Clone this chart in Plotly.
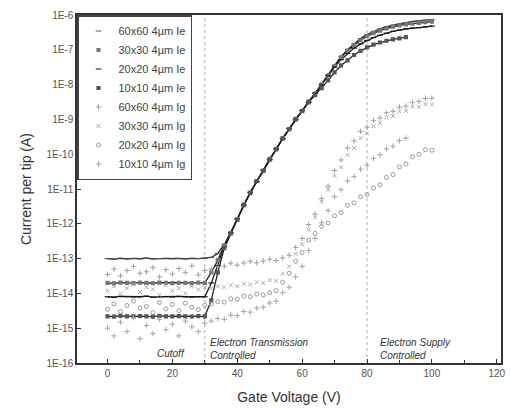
import plotly.graph_objects as go

# ---------------- data ----------------
volts = [0, 2, 4, 6, 8, 10, 12, 14, 16, 18, 20, 22, 24, 26, 28, 30, 32, 34, 36, 38,
         40, 42, 44, 46, 48, 50, 52, 54, 56, 58, 60, 62, 64, 66, 68, 70, 72, 74, 76, 78,
         80, 82, 84, 86, 88, 90, 92, 94, 96, 98, 100]
volts_10 = volts[:47]  # 10x10 device measured up to 92 V

ie_60 = [1.00e-13, 0.97e-13, 1.02e-13, 0.98e-13, 1.01e-13, 0.99e-13, 1.03e-13, 0.98e-13,
         1.00e-13, 1.02e-13, 0.99e-13, 1.01e-13, 0.98e-13, 1.02e-13, 1.00e-13, 1.03e-13,
         1.08e-13, 1.4e-13, 2.5e-13, 5.6e-13, 1.4e-12, 3.5e-12, 7.9e-12, 1.66e-11, 3.4e-11,
         7.1e-11, 1.41e-10, 2.8e-10, 5.4e-10, 1.0e-9, 1.78e-9, 3.2e-9, 5.6e-9, 1.0e-8, 1.9e-8,
         3.5e-8, 6.3e-8, 1.0e-7, 1.48e-7, 2.1e-7, 2.75e-7, 3.4e-7, 4.0e-7, 4.6e-7, 5.1e-7,
         5.6e-7, 6.0e-7, 6.5e-7, 6.8e-7, 7.1e-7, 7.4e-7]
ie_30 = [2.00e-14, 1.95e-14, 2.05e-14, 2.00e-14, 1.97e-14, 2.03e-14, 2.00e-14, 1.96e-14,
         2.04e-14, 2.00e-14, 1.98e-14, 2.02e-14, 2.00e-14, 1.97e-14, 2.03e-14, 2.00e-14,
         4.0e-14, 9.0e-14, 2.4e-13, 5.4e-13, 1.35e-12, 3.6e-12, 7.6e-12, 1.7e-11, 3.3e-11,
         7.3e-11, 1.38e-10, 2.9e-10, 5.2e-10, 1.03e-9, 1.74e-9, 3.3e-9, 5.5e-9, 1.02e-8, 1.85e-8,
         3.4e-8, 6.1e-8, 9.5e-8, 1.38e-7, 1.9e-7, 2.45e-7, 3.0e-7, 3.55e-7, 4.1e-7, 4.6e-7,
         5.0e-7, 5.4e-7, 5.6e-7, 5.9e-7, 6.2e-7, 6.45e-7]
ie_20 = [8.0e-15, 7.8e-15, 8.2e-15, 8.1e-15, 7.9e-15, 8.0e-15, 8.3e-15, 7.8e-15,
         8.0e-15, 8.1e-15, 7.9e-15, 8.2e-15, 8.0e-15, 7.9e-15, 8.1e-15, 8.0e-15,
         2.0e-14, 6.3e-14, 2.2e-13, 5.5e-13, 1.38e-12, 3.4e-12, 8.1e-12, 1.62e-11, 3.5e-11,
         6.9e-11, 1.44e-10, 2.75e-10, 5.5e-10, 9.8e-10, 1.8e-9, 3.1e-9, 5.7e-9, 9.8e-9, 1.8e-8,
         3.2e-8, 5.2e-8, 7.9e-8, 1.12e-7, 1.48e-7, 1.86e-7, 2.24e-7, 2.63e-7, 3.0e-7, 3.4e-7,
         3.7e-7, 4.0e-7, 4.2e-7, 4.35e-7, 4.55e-7, 4.8e-7]
ie_10 = [2.20e-15, 2.15e-15, 2.25e-15, 2.20e-15, 2.18e-15, 2.22e-15, 2.20e-15, 2.15e-15,
         2.25e-15, 2.20e-15, 2.18e-15, 2.23e-15, 2.20e-15, 2.17e-15, 2.22e-15, 2.20e-15,
         6.3e-15, 4.0e-14, 2.0e-13, 5.3e-13, 1.32e-12, 3.45e-12, 7.7e-12, 1.68e-11, 3.3e-11,
         7.0e-11, 1.4e-10, 2.8e-10, 5.3e-10, 1.0e-9, 1.75e-9, 3.1e-9, 5.0e-9, 7.9e-9, 1.32e-8,
         2.24e-8, 3.55e-8, 5.0e-8, 7.1e-8, 9.3e-8, 1.17e-7, 1.41e-7, 1.62e-7, 1.82e-7, 2.0e-7,
         2.14e-7, 2.3e-7]

ig_60 = [3.5e-14, 5.0e-14, 3.2e-14, 4.5e-14, 6.0e-14, 3.8e-14, 4.2e-14, 5.5e-14,
         3.0e-14, 4.8e-14, 3.6e-14, 5.2e-14, 4.0e-14, 6.2e-14, 3.4e-14, 4.6e-14,
         5.0e-14, 5.8e-14, 6.0e-14, 7.4e-14, 6.5e-14, 7.5e-14, 8.4e-14, 7.6e-14, 8.5e-14,
         9.6e-14, 8.8e-14, 1.05e-13, 1.26e-13, 2.1e-13, 3.8e-13, 9.5e-13, 1.9e-12, 5.3e-12, 1.2e-11,
         3.4e-11, 6.8e-11, 1.5e-10, 2.4e-10, 4.5e-10, 6.0e-10, 9.4e-10, 1.1e-9, 1.55e-9, 1.7e-9,
         2.25e-9, 2.4e-9, 3.1e-9, 3.3e-9, 4.0e-9, 4.1e-9]
ig_30 = [1.2e-14, 1.6e-14, 1.0e-14, 1.4e-14, 1.8e-14, 1.1e-14, 1.5e-14, 1.3e-14,
         0.9e-14, 1.7e-14, 1.2e-14, 1.4e-14, 1.0e-14, 1.6e-14, 1.3e-14, 1.5e-14,
         1.4e-14, 1.6e-14, 1.5e-14, 1.7e-14, 1.6e-14, 1.9e-14, 1.8e-14, 2.1e-14, 2.0e-14,
         2.4e-14, 2.3e-14, 3.7e-14, 6.0e-14, 1.35e-13, 2.6e-13, 6.8e-13, 1.5e-12, 4.3e-12, 9.5e-12,
         2.4e-11, 4.2e-11, 9.5e-11, 1.5e-10, 2.9e-10, 4.0e-10, 6.4e-10, 7.9e-10, 1.13e-9, 1.25e-9,
         1.68e-9, 1.75e-9, 2.3e-9, 2.3e-9, 2.75e-9, 2.7e-9]
ig_20 = [3.5e-15, 5.0e-15, 3.0e-15, 4.5e-15, 6.0e-15, 3.8e-15, 4.2e-15, 2.8e-15,
         5.5e-15, 3.6e-15, 4.8e-15, 3.2e-15, 5.2e-15, 4.0e-15, 3.4e-15, 4.6e-15,
         5.0e-15, 5.8e-15, 5.6e-15, 7.0e-15, 6.8e-15, 8.3e-15, 8.0e-15, 9.6e-15, 9.0e-15,
         1.05e-14, 1.2e-14, 2.1e-14, 3.8e-14, 8.4e-14, 1.5e-13, 3.4e-13, 5.3e-13, 8.4e-13, 1.05e-12,
         1.7e-12, 2.1e-12, 3.4e-12, 4.0e-12, 6.0e-12, 7.0e-12, 1.07e-11, 1.32e-11, 2.15e-11, 2.6e-11,
         4.3e-11, 5.2e-11, 8.5e-11, 9.8e-11, 1.35e-10, 1.3e-10]
ig_10 = [1.0e-15, 0.6e-15, 1.5e-15, 0.8e-15, 2.0e-15, 0.5e-15, 1.2e-15, 0.7e-15,
         1.8e-15, 0.9e-15, 1.3e-15, 0.6e-15, 1.6e-15, 1.1e-15, 0.8e-15, 1.4e-15,
         1.6e-15, 1.9e-15, 1.8e-15, 2.4e-15, 2.3e-15, 3.0e-15, 2.9e-15, 3.8e-15, 4.0e-15,
         5.3e-15, 6.0e-15, 1.05e-14, 1.5e-14, 3.0e-14, 6.0e-14, 1.7e-13, 3.8e-13, 1.07e-12, 2.4e-12,
         6.0e-12, 9.5e-12, 1.7e-11, 2.3e-11, 3.7e-11, 4.8e-11, 7.5e-11, 9.6e-11, 1.42e-10, 1.7e-10,
         2.45e-10, 2.9e-10]

ie_names = ["60x60 4\u00b5m Ie", "30x30 4\u00b5m Ie", "20x20 4\u00b5m Ie", "10x10 4\u00b5m Ie"]
ig_names = ["60x60 4\u00b5m Ig", "30x30 4\u00b5m Ig", "20x20 4\u00b5m Ig", "10x10 4\u00b5m Ig"]

y_ticks = [1e-16, 1e-15, 1e-14, 1e-13, 1e-12, 1e-11, 1e-10, 1e-9, 1e-8, 1e-7, 1e-6]
y_ticktext = ["1E-16", "1E-15", "1E-14", "1E-13", "1E-12", "1E-11", "1E-10",
              "1E-9", "1E-8", "1E-7", "1E-6"]
x_ticks = [0, 20, 40, 60, 80, 100, 120]

region_bounds = [30, 80]

# ---------------- figure ----------------
fig = go.Figure()

ie_sets = [(volts, ie_60), (volts, ie_30), (volts, ie_20), (volts_10, ie_10)]
ie_colors = ["#555555", "#777777", "#111111", "#555555"]
ie_symbols = ["line-ew-open", "square", "line-ew-open", "square"]
ie_sizes = [4, 3, 4, 3]

ig_sets = [(volts, ig_60), (volts, ig_30), (volts, ig_20), (volts_10, ig_10)]
ig_colors = ["#a0a0a0", "#ababab", "#999999", "#a5a5a5"]
ig_symbols = ["cross-thin-open", "x-thin-open", "circle-open", "cross-thin-open"]

# continuous Ie lines (no legend)
for (xv, yv) in ie_sets:
    fig.add_trace(go.Scatter(x=xv, y=yv, mode="lines", showlegend=False,
                             line=dict(color="#222222", width=1.3), hoverinfo="skip"))

# Ie markers (legend)
for (xv, yv), name, col, sym, sz in zip(ie_sets, ie_names, ie_colors, ie_symbols, ie_sizes):
    fig.add_trace(go.Scatter(x=xv, y=yv, mode="markers", name=name,
                             marker=dict(symbol=sym, size=sz, color=col,
                                         line=dict(color=col, width=1.2))))

# Ig markers (legend)
for (xv, yv), name, col, sym in zip(ig_sets, ig_names, ig_colors, ig_symbols):
    fig.add_trace(go.Scatter(x=xv, y=yv, mode="markers", name=name,
                             marker=dict(symbol=sym, size=4, color=col,
                                         line=dict(color=col, width=1))))

for xb in region_bounds:
    fig.add_shape(type="line", x0=xb, x1=xb, xref="x", y0=0, y1=1, yref="paper",
                  line=dict(color="#b0b0b0", width=1, dash="dot"), layer="below")

ann_font = dict(family="Liberation Sans, Arial, sans-serif", size=10, color="#333333")
fig.add_annotation(x=19.5, y=-15.72, xref="x", yref="y", text="<i>Cutoff</i>",
                   showarrow=False, font=ann_font)
fig.add_annotation(x=31, y=-15.6, xref="x", yref="y",
                   text="<i>Electron Transmission</i><br><i>Controlled</i>",
                   showarrow=False, xanchor="left", align="left", font=ann_font)
fig.add_annotation(x=83.5, y=-15.6, xref="x", yref="y",
                   text="<i>Electron Supply</i><br><i>Controlled</i>",
                   showarrow=False, xanchor="left", align="left", font=ann_font)

axis_font = dict(family="Liberation Sans, Arial, sans-serif", size=10, color="#555555")
title_font = dict(family="Liberation Sans, Arial, sans-serif", size=14, color="#333333")

fig.update_xaxes(range=[-9.4, 121.3], tickvals=x_ticks, ticks="inside", ticklen=4,
                 tickcolor="#333333", showline=True, linecolor="#333333", linewidth=1.5,
                 mirror=True, showgrid=False, zeroline=False, tickfont=axis_font,
                 title=dict(text="Gate Voltage (V)", font=title_font, standoff=14),
                 minor=dict(dtick=10, ticks="inside", ticklen=3, tickcolor="#333333"))
fig.update_yaxes(type="log", range=[-16, -6], tickvals=y_ticks, ticktext=y_ticktext,
                 ticks="inside", ticklen=4, tickcolor="#333333", showline=True,
                 linecolor="#333333", linewidth=1.5, mirror=True, showgrid=False,
                 zeroline=False, tickfont=axis_font,
                 title=dict(text="Current per tip (A)", font=title_font, standoff=12))

fig.update_layout(
    width=510, height=408,
    margin=dict(l=77, r=4, t=15, b=45),
    paper_bgcolor="white", plot_bgcolor="white",
    font=dict(family="Liberation Sans, Arial, sans-serif"),
    legend=dict(x=0, y=1, xanchor="left", yanchor="top",
                bgcolor="white", bordercolor="#444444", borderwidth=1.5,
                font=dict(family="Liberation Sans, Arial, sans-serif", size=11,
                          color="#444444"),
                itemwidth=30, tracegroupgap=0),
)

fig.write_html("out.html")
